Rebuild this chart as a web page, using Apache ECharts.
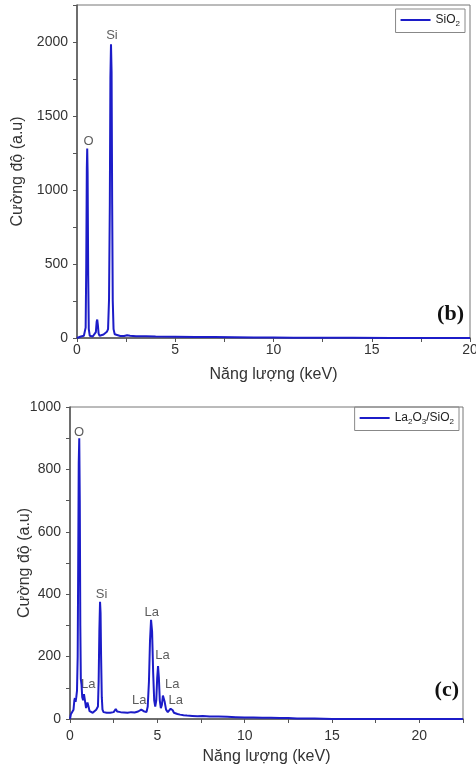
<!DOCTYPE html>
<html>
<head>
<meta charset="utf-8">
<script src="https://cdn.jsdelivr.net/npm/echarts@6/dist/echarts.min.js"></script>
<style>
  html, body { margin: 0; padding: 0; background: #fff; }
  #chart { width: 476px; height: 764px; }
</style>
</head>
<body>
<div id="chart"></div>
<script>
// phổ EDX mẫu SiO2 (b): [năng lượng keV, cường độ]
const sio2Spectrum = [
  [0,0],[0.1,6],[0.2,10],[0.3,12],[0.35,15],[0.4,22],[0.44,70],[0.47,480],[0.5,1150],[0.52,1280],
  [0.54,1120],[0.57,420],[0.6,60],[0.65,15],[0.7,12],[0.8,10],[0.9,14],[0.96,40],[1.0,110],[1.03,125],
  [1.06,90],[1.1,30],[1.15,15],[1.25,20],[1.35,24],[1.45,35],[1.52,42],[1.58,60],[1.63,260],[1.67,900],
  [1.7,1760],[1.73,1985],[1.76,1800],[1.79,900],[1.82,250],[1.86,60],[1.92,25],[2.0,18],[2.2,14],[2.4,13],
  [2.55,18],[2.62,22],[2.7,15],[3.0,12],[3.5,11],[4,10],[5,9],[6,7],[7,6],[8,5],[9,4],[10,3],[11,2],
  [12,1],[14,1],[16,0],[18,0],[20,0]
];
const sio2Peaks = [
  { name: 'O', value: [0.59, 1325] },
  { name: 'Si', value: [1.78, 2045] }
];

// phổ EDX mẫu La2O3/SiO2 (c)
const laSpectrum = [
  [0,0],[0.05,15],[0.1,20],[0.15,18],[0.2,30],[0.25,60],[0.28,67],[0.32,55],[0.36,70],[0.4,90],
  [0.44,200],[0.47,500],[0.5,820],[0.53,900],[0.56,700],[0.59,300],[0.62,128],[0.66,110],[0.7,70],[0.75,60],
  [0.8,80],[0.84,78],[0.88,50],[0.92,35],[0.96,45],[1.0,53],[1.04,48],[1.08,35],[1.12,25],[1.2,22],
  [1.3,20],[1.4,25],[1.5,30],[1.55,28],[1.6,40],[1.64,120],[1.68,280],[1.72,376],[1.75,340],[1.78,200],
  [1.82,70],[1.86,30],[1.92,22],[2.0,18],[2.1,20],[2.2,17],[2.3,20],[2.4,18],[2.5,22],[2.55,28],
  [2.62,32],[2.7,24],[2.8,20],[2.9,22],[3.0,18],[3.1,21],[3.2,19],[3.3,20],[3.4,18],[3.5,22],
  [3.6,19],[3.7,21],[3.8,20],[3.9,24],[4.0,25],[4.08,30],[4.15,33],[4.22,25],[4.3,20],[4.38,22],
  [4.45,40],[4.52,120],[4.58,250],[4.64,318],[4.7,280],[4.76,150],[4.82,60],[4.88,40],[4.94,60],[4.99,130],
  [5.04,170],[5.09,130],[5.14,60],[5.2,35],[5.26,45],[5.32,75],[5.37,81],[5.42,55],[5.5,30],[5.6,22],
  [5.7,25],[5.76,33],[5.82,35],[5.88,28],[5.95,20],[6.05,18],[6.15,16],[6.3,14],[6.5,12],[6.7,11],
  [7.0,10],[7.3,9],[7.6,10],[8.0,8],[8.5,8],[9.0,7],[9.5,6],[10,5],[10.5,5],[11,4],
  [11.5,4],[12,3],[12.5,3],[13,2],[13.5,2],[14,2],[14.5,1],[15,0],[16,0],[17,0],
  [18,0],[19,0],[20,0],[21,0],[22.5,0]
];
const laPeaks = [
  { name: 'O', value: [0.52, 920] },
  { name: 'Si', value: [1.81, 400] },
  { name: 'La', value: [1.05, 112] },
  { name: 'La', value: [3.97, 60] },
  { name: 'La', value: [4.68, 342] },
  { name: 'La', value: [5.29, 203] },
  { name: 'La', value: [5.86, 110] },
  { name: 'La', value: [6.05, 60] }
];

const lineColor = '#1c1cc8'
const axisColor = '#555'
const font = 'Liberation Sans'

function xAxisCfg(idx, max, margin, gap) {
  return {
    type: 'value', gridIndex: idx, min: 0, max: max, interval: 2.5,
    name: 'Năng lượng (keV)', nameLocation: 'middle', nameGap: gap, nameMoveOverlap: false,
    nameTextStyle: { fontFamily: font, fontSize: 16, color: '#333' },
    axisLine: { lineStyle: { color: axisColor, width: 1.5 } },
    axisTick: { length: 4, lineStyle: { color: axisColor } },
    axisLabel: {
      fontFamily: font, fontSize: 14, color: '#333', margin: margin,
      formatter: v => (v % 5 === 0 ? String(v) : '')
    },
    splitLine: { show: false }
  }
}

function yAxisCfg(idx, max, step, labelStep, gap) {
  return {
    type: 'value', gridIndex: idx, min: 0, max: max, interval: step,
    name: 'Cường độ (a.u)', nameLocation: 'middle', nameGap: gap, nameMoveOverlap: false,
    nameTextStyle: { fontFamily: font, fontSize: 16, color: '#333' },
    axisLine: { show: true, lineStyle: { color: axisColor, width: 1.5 } },
    axisTick: { show: true, length: 4, lineStyle: { color: axisColor } },
    axisLabel: {
      fontFamily: font, fontSize: 14, color: '#333', margin: 9,
      formatter: v => (v % labelStep === 0 ? String(v) : '')
    },
    splitLine: { show: false }
  }
}

const peakLabel = {
  show: true, position: 'inside', formatter: '{b}',
  fontFamily: font, fontSize: 13, color: '#333'
}

const subRich = {
  n: { fontFamily: font, fontSize: 12, color: '#222' },
  s: { fontFamily: font, fontSize: 8, color: '#222', padding: [7, 0, 0, 0] }
}

const chart = echarts.init(document.getElementById('chart'))
chart.setOption({
  backgroundColor: '#fff',
  animation: false,
  grid: [
    { left: 77, right: 6, top: 5, height: 333, show: true, borderColor: '#777', borderWidth: 1, outerBoundsMode: 'none' },
    { left: 70, right: 13, top: 407, height: 312, show: true, borderColor: '#777', borderWidth: 1, outerBoundsMode: 'none' }
  ],
  xAxis: [xAxisCfg(0, 20, 5, 29), xAxisCfg(1, 22.5, 10, 30)],
  yAxis: [yAxisCfg(0, 2250, 250, 500, 51), yAxisCfg(1, 1000, 100, 200, 37)],
  legend: [
    {
      data: ['SiO2'], right: 11, top: 9, padding: [5, 5],
      borderColor: '#888', borderWidth: 1, itemWidth: 30, itemHeight: 2, itemGap: 4,
      icon: 'rect', textStyle: { rich: subRich },
      formatter: () => '{n|SiO}{s|2}'
    },
    {
      data: ['La2O3/SiO2'], right: 17, top: 407, padding: [5, 5],
      borderColor: '#888', borderWidth: 1, itemWidth: 30, itemHeight: 2, itemGap: 4,
      icon: 'rect', textStyle: { rich: subRich },
      formatter: () => '{n|La}{s|2}{n|O}{s|3}{n|/SiO}{s|2}'
    }
  ],
  title: [
    { text: '(b)', right: 12, top: 303, padding: 0,
      textStyle: { fontFamily: 'Liberation Serif', fontWeight: 'bold', fontSize: 22, color: '#111' } },
    { text: '(c)', right: 17, top: 679, padding: 0,
      textStyle: { fontFamily: 'Liberation Serif', fontWeight: 'bold', fontSize: 22, color: '#111' } }
  ],
  series: [
    {
      name: 'SiO2', type: 'line', xAxisIndex: 0, yAxisIndex: 0,
      data: sio2Spectrum, symbol: 'none', color: lineColor,
      lineStyle: { width: 2, color: lineColor }
    },
    {
      type: 'scatter', xAxisIndex: 0, yAxisIndex: 0, symbolSize: 0,
      data: sio2Peaks, label: peakLabel, silent: true
    },
    {
      name: 'La2O3/SiO2', type: 'line', xAxisIndex: 1, yAxisIndex: 1,
      data: laSpectrum, symbol: 'none', color: lineColor,
      lineStyle: { width: 2, color: lineColor }
    },
    {
      type: 'scatter', xAxisIndex: 1, yAxisIndex: 1, symbolSize: 0,
      data: laPeaks, label: peakLabel, silent: true
    }
  ]
})
</script>
</body>
</html>
